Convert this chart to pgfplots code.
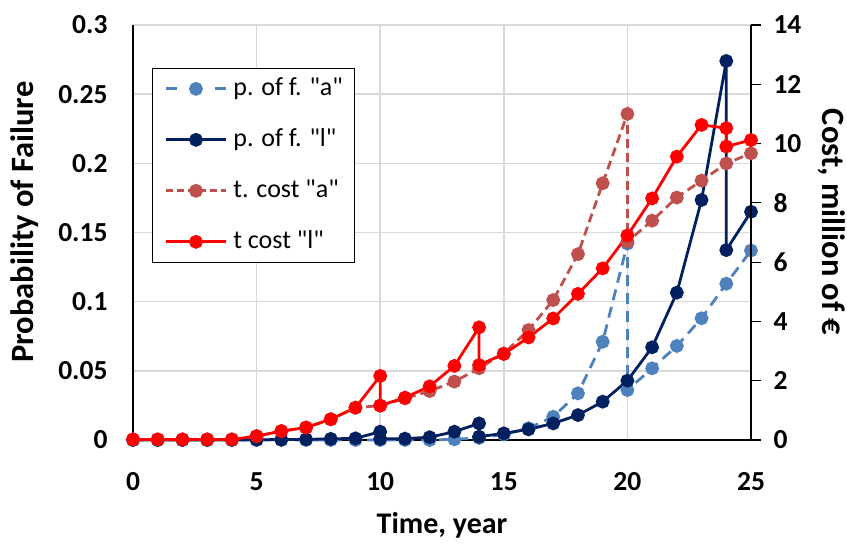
\documentclass[border=0pt]{standalone}
\usepackage{pgfplots}
\pgfplotsset{compat=1.18}
\usepackage{fontspec}
\setmainfont{Carlito}
\newfontfamily\legfont{Carlito}
\definecolor{lblue}{HTML}{4F81BD}
\definecolor{navy}{HTML}{002060}
\definecolor{brn}{HTML}{C0504D}
\definecolor{gridc}{HTML}{D9D9D9}
\newcommand{\tfont}{\fontsize{27.5}{32}\selectfont\bfseries}
\newcommand{\afont}{\fontsize{32.5}{38}\selectfont\bfseries}
\newcommand{\xfont}{\fontsize{30}{36}\selectfont\bfseries}
\newcommand{\lfont}{\legfont\fontsize{26}{31}\selectfont}

\pgfplotstableread{
x y
0 0
1 0
2 0
3 0
4 0
5 0
6 0
7 0
8 0
9 0
10 0
11 0
12 0
13 0.0005
14 0.0015
15 0.004
16 0.0085
17 0.0168
18 0.0337
19 0.071
20 0.142
20 0.0361
21 0.0518
22 0.068
23 0.088
24 0.113
25 0.137
}\pofa

\pgfplotstableread{
x y
0 0
1 0
2 0
3 0
4 0
5 0.0002
6 0.0003
7 0.0005
8 0.0008
9 0.0012
10 0.006
10 0.0008
11 0.001
12 0.002
13 0.006
14 0.012
14 0.0024
15 0.0048
16 0.0077
17 0.012
18 0.018
19 0.0277
20 0.0429
21 0.067
22 0.1065
23 0.1735
24 0.274
24 0.1373
25 0.165
}\pofl

\pgfplotstableread{
x y
0 0.02
1 0.02
2 0.02
3 0.02
4 0.02
5 0.13
6 0.30
7 0.42
8 0.70
9 1.09
10 1.16
11 1.40
12 1.65
13 1.97
14 2.42
15 2.92
16 3.71
17 4.72
18 6.27
19 8.66
20 11.0
20 6.69
21 7.40
22 8.18
23 8.75
24 9.33
25 9.67
}\costa

\pgfplotstableread{
x y
0 0.02
1 0.02
2 0.02
3 0.02
4 0.02
5 0.13
6 0.30
7 0.42
8 0.70
9 1.09
10 2.16
10 1.16
11 1.43
12 1.81
13 2.50
14 3.80
14 2.53
15 2.90
16 3.46
17 4.10
18 4.93
19 5.79
20 6.90
21 8.15
22 9.56
23 10.63
24 10.52
24 9.90
25 10.12
}\costl

\pgfplotsset{
  base/.style={
    scale only axis, width=618pt, height=415pt,
    at={(133pt,107pt)}, anchor=south west,
    xmin=0, xmax=25,
    ticklabel style={font=\tfont},
    label style={font=\afont},
    /pgf/number format/assume math mode=true,
    clip=false,
    axis line style={black, line width=1.2pt},
  },
  mk/.style={mark=*, mark size=5.5pt, line width=2.8pt, mark options={solid}},
}

\begin{document}
\begin{tikzpicture}
\path[use as bounding box] (0,0) rectangle (847pt,547pt);
\begin{axis}[base,
  ymin=0, ymax=0.3,
  ytick={0,0.05,0.1,0.15,0.2,0.25,0.3},
  yticklabels={0,0.05,0.1,0.15,0.2,0.25,0.3},
  xtick={0,5,10,15,20,25},
  xticklabels={0,5,10,15,20,25},
  axis x line*=bottom, axis y line*=left,
  major tick length=0pt,
  grid=major, grid style={gridc, line width=1.5pt},
  yticklabel style={anchor=east, xshift=-22pt},
  xticklabel style={anchor=north, yshift=-29pt},
  xlabel={Time, year},
  ylabel={Probability of Failure},
  xlabel style={at={(axis description cs:0.5,-0.225)}, anchor=base, font=\xfont},
  ylabel style={at={(axis description cs:-0.1618,0.525)}, anchor=base},
]
\addplot[mk, lblue, dash pattern=on 11pt off 7pt] table {\pofa};
\addplot[mk, navy] table {\pofl};
\end{axis}
\begin{axis}[base,
  ymin=0, ymax=14,
  ytick={0,2,4,6,8,10,12,14},
  yticklabels={0,2,4,6,8,10,12,14},
  axis y line*=right, axis x line=none,
  tick align=outside, major tick length=10pt,
  ytick style={black, line width=1.2pt},
  yticklabel style={anchor=west, xshift=9pt},
  ylabel={Cost, million of €},
  ylabel style={at={(axis description cs:1.1149,0.525)}, anchor=base, rotate=180},
  legend style={at={(axis description cs:0.0307,0.897)}, anchor=north west,
    draw=black, line width=1.2pt, fill=white, font=\lfont,
    inner xsep=12pt, inner ysep=8pt, row sep=26pt,
    nodes={inner sep=0pt, text height=19pt, text depth=6pt},
    /tikz/every odd column/.style={column sep=6pt}},
  legend cell align=left,
  legend image code/.code={\draw[mark repeat=2,mark phase=2,#1] plot coordinates {(0pt,0pt) (30pt,0pt) (60pt,0pt)};},
]
\addlegendimage{mk, lblue, dash pattern=on 11pt off 38pt}
\addlegendentry{p. of f. "a"}
\addlegendimage{mk, navy}
\addlegendentry{p. of f. "l"}
\addlegendimage{mk, brn, dash pattern=on 7pt off 4pt}
\addlegendentry{t. cost "a"}
\addlegendimage{mk, red}
\addlegendentry{t cost "l"}
\addplot[mk, brn, dash pattern=on 9pt off 5pt, forget plot] table {\costa};
\addplot[mk, red, forget plot] table {\costl};
\end{axis}
\end{tikzpicture}
\end{document}
